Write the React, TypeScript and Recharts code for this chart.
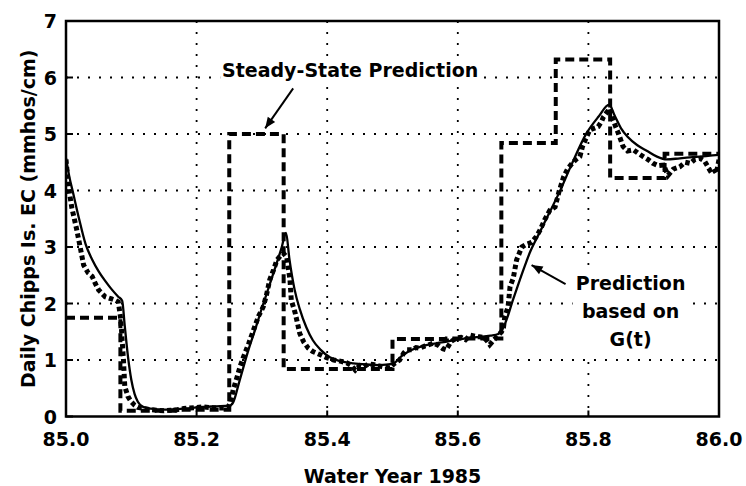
import React from "react";
import {
  LineChart,
  Line,
  XAxis,
  YAxis,
  CartesianGrid,
  ReferenceArea,
  ReferenceDot,
} from "recharts";

// Steady-state prediction (monthly steps)
const ssX = [85.0, 85.0833, 85.1667, 85.25, 85.3333, 85.4167, 85.5, 85.5833, 85.6667, 85.75, 85.8333, 85.9167, 86.0];
const ssY = [1.75, 0.1, 0.12, 5.0, 0.84, 0.84, 1.37, 1.38, 4.84, 6.32, 4.22, 4.65, 4.65];

// Prediction based on G(t)
const gX = [
  85.0, 85.005, 85.011, 85.02, 85.03, 85.04, 85.05, 85.06, 85.07, 85.08, 85.086, 85.09, 85.095, 85.1, 85.105, 85.11,
  85.118, 85.13, 85.15, 85.17, 85.19, 85.21, 85.23, 85.25, 85.256, 85.265, 85.28, 85.29, 85.3, 85.31, 85.32, 85.33,
  85.337, 85.342, 85.35, 85.358, 85.368, 85.378, 85.39, 85.404, 85.42, 85.44, 85.46, 85.48, 85.5, 85.515, 85.53,
  85.55, 85.575, 85.6, 85.625, 85.65, 85.662, 85.67, 85.685, 85.7, 85.711, 85.725, 85.74, 85.756, 85.775, 85.797,
  85.815, 85.832, 85.84, 85.85, 85.86, 85.875, 85.89, 85.905, 85.92, 85.94, 85.96, 85.98, 86.0,
];
const gY = [
  4.57, 4.25, 3.95, 3.5, 3.05, 2.78, 2.57, 2.4, 2.25, 2.12, 2.05, 1.6, 1.05, 0.65, 0.4, 0.26,
  0.17, 0.14, 0.12, 0.13, 0.15, 0.17, 0.18, 0.19, 0.25, 0.6, 1.2, 1.55, 1.92, 2.27, 2.62, 2.98,
  3.25, 2.8, 2.25, 1.9, 1.58, 1.35, 1.18, 1.05, 0.98, 0.94, 0.92, 0.91, 0.93, 1.08, 1.18,
  1.26, 1.31, 1.36, 1.4, 1.43, 1.46, 1.58, 2.08, 2.58, 2.92, 3.25, 3.6, 3.98, 4.48, 5.01,
  5.3, 5.52, 5.33, 5.1, 4.95, 4.8, 4.7, 4.6, 4.55, 4.57, 4.59, 4.61, 4.63,
];

// Observed daily Chipps Island EC
const oX = [
  85.0, 85.004, 85.009, 85.016, 85.021, 85.027, 85.034, 85.04, 85.045, 85.05, 85.055, 85.06, 85.065, 85.07, 85.075,
  85.08, 85.083, 85.085, 85.088, 85.09, 85.095, 85.1, 85.105, 85.11, 85.12, 85.13, 85.14, 85.15, 85.16, 85.17, 85.18,
  85.19, 85.2, 85.21, 85.22, 85.23, 85.24, 85.248, 85.252, 85.256, 85.262, 85.267, 85.272, 85.28, 85.289, 85.295,
  85.302, 85.307, 85.312, 85.318, 85.323, 85.328, 85.333, 85.338, 85.343, 85.345, 85.351, 85.358, 85.364, 85.371,
  85.378, 85.384, 85.392, 85.399, 85.41, 85.42, 85.43, 85.437, 85.443, 85.45, 85.456, 85.463, 85.47, 85.478, 85.485,
  85.49, 85.496, 85.502, 85.511, 85.517, 85.522, 85.53, 85.536, 85.542, 85.55, 85.556, 85.563, 85.57, 85.577, 85.582,
  85.59, 85.598, 85.605, 85.612, 85.619, 85.626, 85.633, 85.64, 85.644, 85.649, 85.655, 85.662, 85.667, 85.67, 85.672,
  85.677, 85.68, 85.685, 85.69, 85.698, 85.705, 85.713, 85.72, 85.726, 85.733, 85.741, 85.749, 85.755, 85.762, 85.768,
  85.775, 85.781, 85.787, 85.791, 85.795, 85.802, 85.808, 85.815, 85.82, 85.823, 85.828, 85.833, 85.838, 85.842,
  85.846, 85.85, 85.853, 85.86, 85.869, 85.876, 85.884, 85.891, 85.899, 85.907, 85.915, 85.922, 85.93, 85.94, 85.948,
  85.956, 85.963, 85.971, 85.978, 85.986, 85.991, 85.996, 86.0,
];
const oY = [
  4.55, 4.05, 3.69, 3.33, 3.04, 2.68, 2.54, 2.48, 2.35, 2.24, 2.18, 2.12, 2.1, 2.08, 2.06,
  2.03, 1.8, 1.53, 1.0, 0.53, 0.35, 0.26, 0.2, 0.16, 0.14, 0.12, 0.11, 0.1, 0.11, 0.12, 0.14,
  0.15, 0.16, 0.17, 0.16, 0.15, 0.15, 0.16, 0.25, 0.47, 0.7, 0.9, 1.06, 1.3, 1.59, 1.78,
  1.94, 2.15, 2.42, 2.6, 2.77, 2.84, 2.89, 2.82, 2.42, 2.06, 1.83, 1.47, 1.32, 1.21,
  1.15, 1.12, 1.08, 1.04, 1.0, 0.98, 0.95, 0.9, 0.82, 0.9, 0.88, 0.93, 0.92, 0.9, 0.88,
  0.87, 0.86, 0.93, 1.0, 1.12, 1.18, 1.18, 1.22, 1.21, 1.25, 1.27, 1.3, 1.26, 1.2, 1.18,
  1.33, 1.39, 1.4, 1.36, 1.44, 1.42, 1.41, 1.4, 1.35, 1.27, 1.35, 1.44, 1.5, 1.58, 1.77,
  1.94, 2.3, 2.45, 2.77, 3.0, 3.05, 3.08, 3.18, 3.3, 3.48, 3.65, 3.71, 3.98, 4.24, 4.38,
  4.48, 4.55, 4.6, 4.78, 4.89, 5.07, 5.1, 5.13, 5.22, 5.3, 5.38, 5.45, 5.25, 5.12,
  5.01, 4.88, 4.78, 4.7, 4.72, 4.66, 4.6, 4.55, 4.48, 4.44, 4.45, 4.27, 4.38, 4.42, 4.5,
  4.48, 4.55, 4.57, 4.52, 4.36, 4.4, 4.3, 4.55,
];

const xTicks = [85.0, 85.2, 85.4, 85.6, 85.8, 86.0];
const yTicks = [0, 1, 2, 3, 4, 5, 6, 7];

const xLabel = "Water Year 1985";
const yLabel = "Daily Chipps Is. EC  (mmhos/cm)";
const ssLabel = "Steady-State Prediction";
const gLabel = ["Prediction", "based on", "G(t)"];

const zip = (xs: number[], ys: number[]) => xs.map((x, i) => ({ x, y: ys[i] }));
const ssData = zip(ssX, ssY);
const gData = zip(gX, gY);
const oData = zip(oX, oY);

const FONT = "'DejaVu Sans', sans-serif";
const textStyle: React.CSSProperties = { fontFamily: FONT, fontWeight: "bold", fontSize: 19, fill: "#000" };

const XTick = (props: any) => {
  const { x, y, payload } = props;
  return (
    <g>
      <line x1={x} y1={y} x2={x} y2={y - 6} stroke="#000" strokeWidth={2} />
      <text x={x} y={y + 29} textAnchor="middle" style={textStyle}>
        {Number(payload.value).toFixed(1)}
      </text>
    </g>
  );
};

const YTick = (props: any) => {
  const { x, y, payload } = props;
  return (
    <g>
      <line x1={x} y1={y} x2={x + 7} y2={y} stroke="#000" strokeWidth={2} />
      <text x={x - 9} y={y + 7} textAnchor="end" style={textStyle}>
        {String(payload.value)}
      </text>
    </g>
  );
};

const arrowHead = (tx: number, ty: number, fx: number, fy: number) => {
  const dx = tx - fx;
  const dy = ty - fy;
  const len = Math.sqrt(dx * dx + dy * dy);
  const ux = dx / len;
  const uy = dy / len;
  const L = 11;
  const W = 4.5;
  const bx = tx - ux * L;
  const by = ty - uy * L;
  return `${tx},${ty} ${bx - uy * W},${by + ux * W} ${bx + uy * W},${by - ux * W}`;
};

const SteadyAnno = (p: any) => {
  const { cx, cy } = p;
  const fx = cx + 28;
  const fy = cy - 40;
  return (
    <g>
      <rect x={cx + 85 - 130} y={cy - 68} width={260} height={24} fill="#fff" />
      <text x={cx + 85} y={cy - 51} textAnchor="middle" style={textStyle}>
        {ssLabel}
      </text>
      <line x1={fx} y1={fy} x2={cx} y2={cy} stroke="#000" strokeWidth={2} />
      <polygon points={arrowHead(cx, cy, fx, fy)} fill="#000" />
    </g>
  );
};

const GAnno = (p: any) => {
  const { cx, cy } = p;
  const fx = cx + 34;
  const fy = cy + 19;
  return (
    <g>
      <rect x={cx + 99 - 58} y={cy + 4} width={116} height={88} fill="#fff" />
      {gLabel.map((t, i) => (
        <text key={t} x={cx + 99} y={cy + 25 + i * 28} textAnchor="middle" style={textStyle}>
          {t}
        </text>
      ))}
      <line x1={fx} y1={fy} x2={cx} y2={cy} stroke="#000" strokeWidth={2} />
      <polygon points={arrowHead(cx, cy, fx, fy)} fill="#000" />
    </g>
  );
};

export default function App() {
  return (
    <div style={{ width: 746, height: 486, background: "#fff" }}>
      <style>{"body{margin:0;background:#fff}"}</style>
      <LineChart width={746} height={486} margin={{ top: 21, right: 27, bottom: 0, left: 0 }}>
        <CartesianGrid
          stroke="#000"
          strokeWidth={1.8}
          strokeDasharray="2 9"
          horizontalValues={[1, 2, 3, 4, 5, 6]}
          verticalValues={[85.2, 85.4, 85.6, 85.8]}
        />
        <XAxis
          dataKey="x"
          type="number"
          domain={[85, 86]}
          ticks={xTicks}
          allowDataOverflow
          axisLine={false}
          tickLine={false}
          tickSize={0}
          tickMargin={0}
          height={69.5}
          tick={<XTick />}
          interval={0}
          label={{
            content: (props: any) => {
              const vb = props.viewBox || {};
              return (
                <text x={vb.x + vb.width / 2} y={vb.y + 66} textAnchor="middle" style={textStyle}>
                  {xLabel}
                </text>
              );
            },
          }}
        />
        <YAxis
          type="number"
          domain={[0, 7]}
          ticks={yTicks}
          allowDataOverflow
          axisLine={false}
          tickLine={false}
          tickSize={0}
          tickMargin={0}
          width={66}
          tick={<YTick />}
          interval={0}
          label={{
            content: (props: any) => {
              const vb = props.viewBox || {};
              const cx = 35;
              const cy = vb.y + vb.height / 2;
              return (
                <text
                  x={cx}
                  y={cy}
                  textAnchor="middle"
                  transform={`rotate(-90 ${cx} ${cy})`}
                  style={textStyle}
                >
                  {yLabel}
                </text>
              );
            },
          }}
        />
        <Line
          data={ssData}
          dataKey="y"
          type="stepAfter"
          stroke="#000"
          strokeWidth={4}
          strokeDasharray="9 5"
          dot={false}
          isAnimationActive={false}
        />
        <Line
          data={oData}
          dataKey="y"
          type="linear"
          stroke="#000"
          strokeWidth={5}
          strokeDasharray="4.5 3"
          dot={false}
          isAnimationActive={false}
        />
        <Line
          data={gData}
          dataKey="y"
          type="monotone"
          stroke="#000"
          strokeWidth={2.3}
          dot={false}
          isAnimationActive={false}
        />
        <ReferenceArea x1={85} x2={86} y1={0} y2={7} fill="none" fillOpacity={0} stroke="#000" strokeWidth={2.5} />
        <ReferenceDot x={85.305} y={5.1} r={0} shape={(p: any) => <SteadyAnno {...p} />} />
        <ReferenceDot x={85.713} y={2.68} r={0} shape={(p: any) => <GAnno {...p} />} />
      </LineChart>
    </div>
  );
}
